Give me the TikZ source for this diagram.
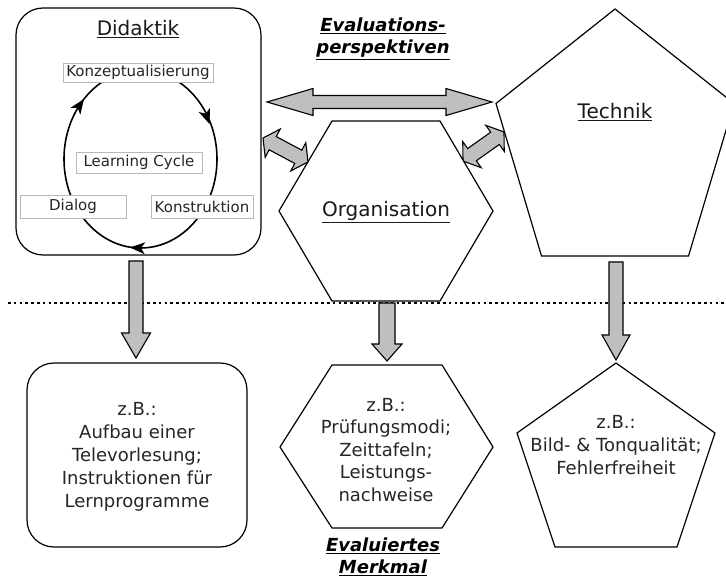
\documentclass[tikz,border=0pt]{standalone}
\usepackage{fontspec}
\setmainfont{DejaVu Sans}
\usetikzlibrary{calc}
\newdimen\myArrDX
\newdimen\myArrDY
\newcommand\arrgeom[2]{%
  \pgfextractx{\myArrDX}{\pgfpointdiff{\pgfpointanchor{#1}{center}}{\pgfpointanchor{#2}{center}}}%
  \pgfextracty{\myArrDY}{\pgfpointdiff{\pgfpointanchor{#1}{center}}{\pgfpointanchor{#2}{center}}}%
  \pgfmathsetmacro\arrang{atan2(\myArrDY,\myArrDX)}%
  \pgfmathsetmacro\arrlen{veclen(\myArrDX,\myArrDY)}}
\newcommand\sarrow[5]{% from, to, shaft half, head half, head length
  \arrgeom{#1}{#2}%
  \begin{scope}[shift={(#1)},rotate=\arrang]
    \draw[blk] (0,-#3) -- ({\arrlen-#5},-#3) -- ({\arrlen-#5},-#4) -- (\arrlen,0)
      -- ({\arrlen-#5},#4) -- ({\arrlen-#5},#3) -- (0,#3) -- cycle;
  \end{scope}}
\newcommand\darrow[5]{%
  \arrgeom{#1}{#2}%
  \begin{scope}[shift={(#1)},rotate=\arrang]
    \draw[blk] (0,0) -- (#5,-#4) -- (#5,-#3) -- ({\arrlen-#5},-#3) -- ({\arrlen-#5},-#4)
      -- (\arrlen,0) -- ({\arrlen-#5},#4) -- ({\arrlen-#5},#3) -- (#5,#3) -- (#5,#4) -- cycle;
  \end{scope}}
\newcommand\cyctip[2]{% tip coordinate, direction (degrees, counterclockwise)
  \begin{scope}[shift={(#1)},rotate=#2]
    \fill[black] (0,0) -- (-15,6) -- (-11,0) -- (-15,-6) -- cycle;
  \end{scope}}
\begin{document}
\begin{tikzpicture}[x=1pt,y=-1pt,
  blk/.style={draw=black, line width=1.1pt, fill=gray!50, line join=miter},
  shp/.style={draw=black, line width=1.2pt, fill=white, line join=miter},
  lbl/.style={draw=black!28, line width=0.8pt, fill=white, inner sep=0pt,
    font=\fontsize{15}{18}\selectfont, text=black!85},
  ttl/.style={font=\fontsize{20}{24}\selectfont, text=black!90},
  body/.style={font=\fontsize{18}{23}\selectfont, align=center, text=black!85},
  emphlbl/.style={font=\fontsize{18}{22}\selectfont\bfseries\itshape, align=center}]
\useasboundingbox (0,0) rectangle (726,578);
% dotted separator
\coordinate (dl) at (8,303);
\coordinate (dr) at (726,303);
\draw[line width=2.6pt, dash pattern=on 2.6pt off 3.2pt] (dl) -- (dr);
% arrow end points
\coordinate (hA) at (267,102);  \coordinate (hB) at (492,102);
\coordinate (lA) at (263,138);  \coordinate (lB) at (308,162);
\coordinate (rA) at (463,161);  \coordinate (rB) at (504,132);
\coordinate (d1a) at (136,261); \coordinate (d1b) at (136,358);
\coordinate (d2a) at (387,303); \coordinate (d2b) at (387,361);
\coordinate (d3a) at (616,262); \coordinate (d3b) at (616,360);
\darrow{hA}{hB}{6.5}{13.5}{46}
\darrow{lA}{lB}{7.5}{16}{11}
\darrow{rA}{rB}{7.5}{16}{11}
\sarrow{d1a}{d1b}{7}{14.5}{25}
\sarrow{d2a}{d2b}{8}{15}{17}
\sarrow{d3a}{d3b}{7}{14}{25}
% main shapes
\node[shp, rounded corners=27pt, minimum width=245pt, minimum height=247pt, inner sep=0pt] (did) at (138.5,131.5) {};
\draw[shp] (332,121) -- (440,121) -- (493,211) -- (440,301) -- (332,301) -- (279,211) -- cycle;
\draw[shp] (615,9) -- (734,103.5) -- (688.5,256) -- (541.5,256) -- (496,103.5) -- cycle;
\node[shp, rounded corners=27pt, minimum width=220pt, minimum height=184pt, inner sep=0pt] (ex1) at (137,455) {};
\draw[shp] (332,365) -- (442,365) -- (493,447) -- (442,528) -- (332,528) -- (280,447) -- cycle;
\draw[shp] (616,363) -- (715,433) -- (677,547) -- (555,547) -- (517,433) -- cycle;
% learning cycle (clockwise on the page)
\coordinate (cyc) at (140.5,159);
\draw[line width=1.6pt] (cyc) ellipse [x radius=76.5, y radius=89];
\coordinate (tp1) at (84,99);
\coordinate (tp2) at (209.5,124);
\coordinate (tp3) at (130,247.5);
\cyctip{tp1}{55}
\cyctip{tp2}{-70}
\cyctip{tp3}{177}
\node[lbl, minimum width=150pt, minimum height=19pt] (konz) at (138,72.5) {Konzeptualisierung};
\node[lbl, minimum width=126pt, minimum height=21pt] (lc) at (139,162.5) {Learning Cycle};
\node[lbl, minimum width=106pt, minimum height=23pt] (dia) at (73,206.5) {Dialog};
\node[lbl, minimum width=102pt, minimum height=23pt] (kon) at (202,206.5) {Konstruktion};
% titles
\node[ttl] (didt) at (138,29) {\underline{Didaktik}};
\node[ttl] (orgt) at (386,212) {\underline{Organisation}};
\node[ttl] (techt) at (615,112) {\underline{Technik}};
\node[emphlbl] (evp) at (383,39) {\underline{Evaluations-}\\\underline{perspektiven}};
\node[emphlbl] (evm) at (383,557) {\underline{Evaluiertes}\\\underline{Merkmal}};
% example texts
\node[body] (t1) at (137,457) {z.B.:\\Aufbau einer\\Televorlesung;\\Instruktionen für\\Lernprogramme};
\node[body, font=\fontsize{18}{22.5}\selectfont] (t2) at (386,450) {z.B.:\\Prüfungsmodi;\\Zeittafeln;\\Leistungs-\\nachweise};
\node[body] (t3) at (616,445) {z.B.:\\Bild- \& Tonqualität;\\Fehlerfreiheit};
\end{tikzpicture}
\end{document}
